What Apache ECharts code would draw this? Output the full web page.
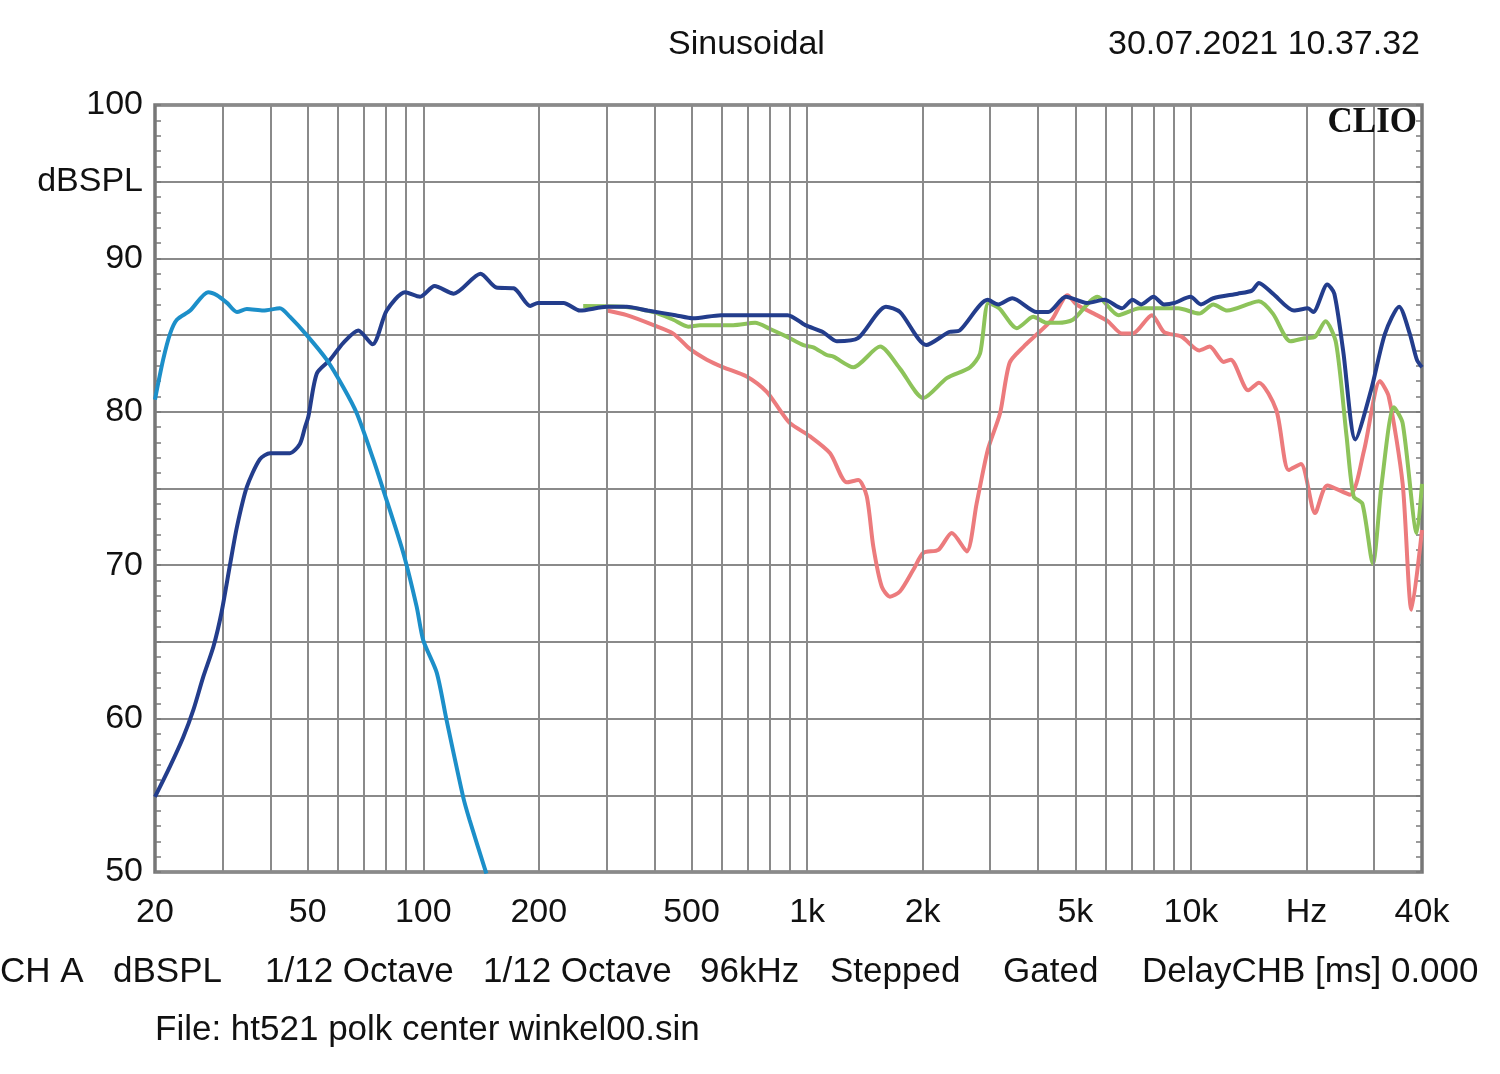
<!DOCTYPE html>
<html>
<head>
<meta charset="utf-8">
<script src="https://cdn.jsdelivr.net/npm/echarts@6/dist/echarts.min.js"></script>
<style>
html,body{margin:0;padding:0;background:#fff;}
#chart{width:1500px;height:1074px;}
</style>
</head>
<body>
<div id="chart"></div>
<script>
// ---- data (frequency Hz, dBSPL) ----
const cyanCurve = [[20,80.8],[21.0,83.4],[21.9,85.1],[22.8,86.0],[24.7,86.6],[27.5,87.8],[29.0,87.6],[30.8,87.1],[32.7,86.5],[34.7,86.7],[38.3,86.6],[42.3,86.75],[44.9,86.2],[49.7,85.0],[56.0,83.4],[61.9,81.6],[67.1,79.9],[74.1,76.9],[78.7,74.9],[88.7,70.8],[96.1,67.3],[100,65.1],[108.4,63.0],[115,59.9],[127,54.9],[132,53.4],[146,49.9]];

const navyCurve = [[20,54.9],[21.9,56.9],[23.7,58.8],[25.2,60.6],[26.7,62.7],[28.4,64.7],[29.8,66.9],[31.4,70.1],[32.7,72.5],[34.7,75.1],[37.5,76.9],[39.9,77.3],[44.9,77.3],[47.7,77.9],[49.2,79.0],[50.2,79.7],[52.8,82.5],[57.2,83.4],[61.9,84.5],[67.7,85.3],[73.8,84.4],[80.3,86.6],[89.6,87.8],[98.1,87.5],[107,88.2],[120,87.7],[141,89.0],[155,88.1],[172,88.05],[190,86.9],[199,87.1],[232,87.1],[256,86.6],[301,86.85],[339,86.85],[384,86.6],[454,86.3],[504,86.1],[597,86.3],[691,86.3],[836,86.3],[890,86.3],[989,85.65],[1099,85.2],[1195,84.6],[1357,84.8],[1605,86.85],[1747,86.5],[2044,84.35],[2344,85.2],[2497,85.3],[2955,87.3],[3148,87.0],[3425,87.4],[3968,86.5],[4249,86.5],[4722,87.5],[5355,87.1],[5954,87.3],[6612,86.75],[7047,87.3],[7424,87.0],[7990,87.5],[8511,87.0],[9072,87.1],[9972,87.5],[10622,87.0],[11434,87.4],[13243,87.7],[14415,87.9],[15031,88.4],[16350,87.7],[18556,86.6],[20180,86.75],[20830,86.5],[22660,88.3],[23640,87.7],[24920,84.0],[26820,78.2],[29460,81.4],[32040,85.1],[34880,86.85],[37160,85.1],[38780,83.4],[40000,82.9]];

const greenCurve = [[261,86.9],[332,86.85],[398,86.5],[448,86.0],[490,85.55],[526,85.65],[642,85.65],[732,85.8],[801,85.4],[885,84.9],[978,84.35],[1038,84.2],[1125,83.7],[1171,83.6],[1320,82.9],[1549,84.25],[1747,82.8],[2008,80.9],[2312,82.2],[2658,82.9],[2822,83.8],[2968,87.1],[3165,86.75],[3518,85.45],[3810,86.1],[3880,86.2],[4212,85.8],[4528,85.8],[4924,86.0],[5708,87.5],[6474,86.3],[7348,86.75],[8338,86.75],[9266,86.75],[10506,86.4],[11434,87.0],[12436,86.6],[14415,87.1],[15031,87.2],[16350,86.4],[18172,84.6],[19760,84.8],[21060,84.9],[22420,85.9],[23880,84.5],[25440,78.4],[26540,74.5],[27980,74.0],[29780,70.1],[31400,75.3],[33800,80.3],[35620,79.25],[38780,72.1],[40000,75.3]];

const redCurve = [[301,86.6],[339,86.3],[398,85.65],[448,85.1],[495,84.1],[548,83.4],[605,82.9],[696,82.3],[785,81.3],[850,80.1],[903,79.25],[1018,78.4],[1148,77.3],[1269,75.4],[1360,75.55],[1430,74.5],[1488,71.2],[1565,68.6],[1644,67.95],[1747,68.3],[1891,69.7],[2008,70.8],[2198,71.0],[2382,72.1],[2606,70.9],[2764,74.0],[2955,77.5],[3182,79.9],[3371,83.2],[3668,84.25],[3908,84.9],[4342,86.0],[4771,87.6],[5030,87.0],[5590,86.4],[6080,85.9],[6612,85.1],[7047,85.1],[7912,86.3],[8511,85.2],[9458,84.9],[10506,84.0],[11190,84.25],[12176,83.25],[12700,83.4],[14108,81.4],[15031,81.9],[16696,80.1],[17974,76.2],[19352,76.6],[21060,73.4],[22660,75.2],[25980,74.6],[28260,77.5],[31080,82.0],[32760,81.0],[35620,75.3],[37560,67.1],[40000,72.3]];

const gridFreqs = [30,40,50,60,70,80,90,100,200,300,400,500,600,700,800,900,1000,2000,3000,4000,5000,6000,7000,8000,9000,10000,20000,30000];
const tickFreqs = [20,50,100,200,500,1000,2000,5000,10000,20000,40000];
const tickLabels = ['20','50','100','200','500','1k','2k','5k','10k','Hz','40k'];
const footerItems = ['CH A','dBSPL','1/12 Octave','1/12 Octave','96kHz','Stepped','Gated','DelayCHB [ms] 0.000'];
const footerX = [0,113,265,483,700,830,1003,1142];

const FONT = '"Liberation Sans", Arial, sans-serif';
const chart = echarts.init(document.getElementById('chart'), null, {renderer:'canvas'});

const yAxisCommon = {
  type:'value', min:50, max:100, interval:5,
  axisLine:{show:false},
  axisTick:{show:true, inside:true, length:6, lineStyle:{color:'#7a7a7a', width:1.5}},
  minorTick:{show:true, splitNumber:5, length:6, lineStyle:{color:'#7a7a7a', width:1.5}}
};

const option = {
  backgroundColor:'#ffffff',
  animation:false,
  grid:{left:155, right:78, top:105, bottom:202, show:true, borderColor:'#777777', borderWidth:3.5, backgroundColor:'transparent'},
  xAxis:{
    type:'log', logBase:10, min:20, max:40000,
    axisLine:{show:false}, axisTick:{show:false}, axisLabel:{show:false}, splitLine:{show:false}
  },
  yAxis:[
    Object.assign({}, yAxisCommon, {
      position:'left',
      axisLabel:{show:true, margin:12, fontSize:34, color:'#111', fontFamily:FONT,
        formatter:function(v){ if (v % 10 === 0) return String(v); if (v === 95) return 'dBSPL'; return ''; }},
      splitLine:{show:true, lineStyle:{color:'#8a8a8a', width:2}}
    }),
    Object.assign({}, yAxisCommon, {
      position:'right',
      axisLabel:{show:false},
      splitLine:{show:false}
    })
  ],
  graphic:[
    {type:'text', left:668, top:28, style:{text:'Sinusoidal', font:'34px ' + FONT, fill:'#111'}},
    {type:'text', right:80, top:28, style:{text:'30.07.2021 10.37.32', font:'34px ' + FONT, fill:'#111'}},
    {type:'text', right:83, top:105, z:10, style:{text:'CLIO', font:'bold 35px "Liberation Serif", "Times New Roman", serif', fill:'#111'}},
    {type:'text', left:155, top:1013, style:{text:'File: ht521 polk center winkel00.sin', font:'35px ' + FONT, fill:'#111'}}
  ].concat(footerItems.map(function(t,i){
    return {type:'text', left:footerX[i], top:955, style:{text:t, font:'35px ' + FONT, fill:'#111'}};
  })),
  series:[
    {
      name:'gridlines', type:'line', data:[], silent:true, z:1,
      markLine:{
        silent:true, symbol:['none','none'], animation:false,
        label:{show:false},
        lineStyle:{color:'#8a8a8a', width:2, type:'solid'},
        data: gridFreqs.map(function(f){ return {xAxis:f}; })
      }
    },
    {
      name:'ticklabels', type:'scatter', symbolSize:0, silent:true, clip:false,
      itemStyle:{opacity:1},
      data: tickFreqs.map(function(f,i){ return {value:[f,50], label:{formatter:tickLabels[i]}}; }),
      label:{show:true, position:'bottom', distance:24, fontSize:34, color:'#111', opacity:1, fontFamily:FONT}
    },
    {name:'red', type:'line', data:redCurve, showSymbol:false, smooth:0.25, z:3,
      lineStyle:{color:'#ec7b7d', width:4}},
    {name:'green', type:'line', data:greenCurve, showSymbol:false, smooth:0.25, z:4,
      lineStyle:{color:'#8dc35a', width:4}},
    {name:'navy', type:'line', data:navyCurve, showSymbol:false, smooth:0.25, z:5,
      lineStyle:{color:'#233d8c', width:4}},
    {name:'cyan', type:'line', data:cyanCurve, showSymbol:false, smooth:0.25, z:6,
      lineStyle:{color:'#1c8fc9', width:4}}
  ]
};
chart.setOption(option);
</script>
</body>
</html>
